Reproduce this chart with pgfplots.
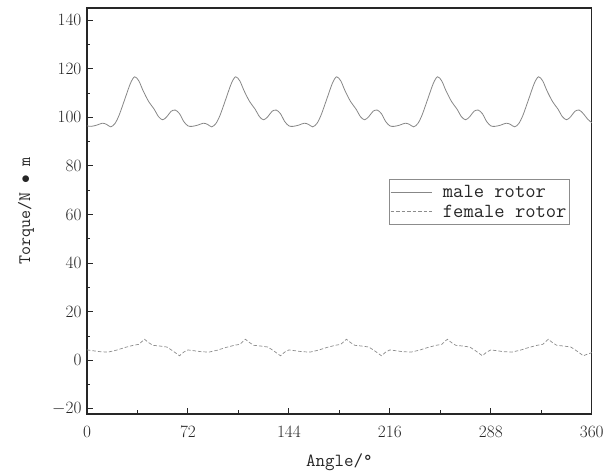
\documentclass[border=0pt]{standalone}
\usepackage{fontspec}
\usepackage{pgfplots}
\pgfplotsset{compat=1.18}
\definecolor{maleC}{RGB}{135,135,135}
\definecolor{femC}{RGB}{140,140,140}
\begin{document}
\begin{tikzpicture}
\begin{axis}[
  scale only axis,
  width=505pt, height=406pt,
  xmin=0, xmax=360, ymin=-22, ymax=145,
  xtick={0,72,144,216,288,360},
  minor xtick={36,108,180,252,324},
  ytick={-20,0,20,40,60,80,100,120,140},
  minor ytick={-10,10,30,50,70,90,110,130},
  tick align=inside,
  xtick pos=bottom, ytick pos=left,
  major tick length=6pt, minor tick length=3.5pt,
  every tick/.style={black!85, line width=1pt},
  axis line style={line width=1.3pt, black!85},
  tick label style={font=\fontsize{16.5}{18}\selectfont, black!85},
  xticklabel style={yshift=-9pt},
  yticklabel style={xshift=-2pt},
  xlabel={Angle/°},
  ylabel={Torque/N $\bullet$ m},
  every axis x label/.style={at={(axis description cs:0.5,-0.118)}, anchor=center,
    font=\ttfamily\fontsize{18.5}{20}\selectfont, text=black!85},
  every axis y label/.style={at={(axis description cs:-0.121,0.5)}, rotate=90, anchor=center,
    font=\ttfamily\fontsize{17.5}{20}\selectfont, text=black!85},
  legend style={at={(0.598,0.578)}, anchor=north west,
    draw=black!45, line width=0.6pt, font=\ttfamily\fontsize{20}{20}\selectfont,
    inner xsep=1pt, inner ysep=4pt, row sep=1.5pt, text=black!85,
    /tikz/every odd column/.append style={column sep=9pt}},
  legend cell align=left,
  legend image code/.code={\draw[#1] (0pt,0pt) -- (41pt,0pt);},
]
\addplot[smooth, color=maleC, line width=0.8pt] coordinates {
(0,96.5)(3,96.3)(7,96.8)(11,97.6)(14,97.1)(17,96.1)(20,97.5)(23,101)(27,107.5)(31,114)(34,116.7)(37,115)(40,111)(44,106.5)(48,103.3)(51,100.3)(54,99.0)(57,100.3)(60,102.5)(63,103)(66,101.5)(69,98.3)
(72,96.5)(75,96.3)(79,96.8)(83,97.6)(86,97.1)(89,96.1)(92,97.5)(95,101)(99,107.5)(103,114)(106,116.7)(109,115)(112,111)(116,106.5)(120,103.3)(123,100.3)(126,99.0)(129,100.3)(132,102.5)(135,103)(138,101.5)(141,98.3)
(144,96.5)(147,96.3)(151,96.8)(155,97.6)(158,97.1)(161,96.1)(164,97.5)(167,101)(171,107.5)(175,114)(178,116.7)(181,115)(184,111)(188,106.5)(192,103.3)(195,100.3)(198,99.0)(201,100.3)(204,102.5)(207,103)(210,101.5)(213,98.3)
(216,96.5)(219,96.3)(223,96.8)(227,97.6)(230,97.1)(233,96.1)(236,97.5)(239,101)(243,107.5)(247,114)(250,116.7)(253,115)(256,111)(260,106.5)(264,103.3)(267,100.3)(270,99.0)(273,100.3)(276,102.5)(279,103)(282,101.5)(285,98.3)
(288,96.5)(291,96.3)(295,96.8)(299,97.6)(302,97.1)(305,96.1)(308,97.5)(311,101)(315,107.5)(319,114)(322,116.7)(325,115)(328,111)(332,106.5)(336,103.3)(339,100.3)(342,99.0)(345,100.3)(348,102.5)(351,103)(354,101.5)(357,99.3)(360,97.8)
};
\addlegendentry{male rotor}
\addplot[color=femC, line width=0.7pt, dash pattern=on 3.5pt off 2pt] coordinates {
(0,4.3)(4,4.0)(9,3.6)(15,3.4)(21,4.2)(27,5.3)(33,6.2)(37,6.6)(41,8.7)(44,7.3)(47,6.2)(52,5.9)(57,5.5)(61,4.0)(66,1.9)(69,3.4)
(72,4.3)(76,4.0)(81,3.6)(87,3.4)(93,4.2)(99,5.3)(105,6.2)(109,6.6)(113,8.7)(116,7.3)(119,6.2)(124,5.9)(129,5.5)(133,4.0)(138,1.9)(141,3.4)
(144,4.3)(148,4.0)(153,3.6)(159,3.4)(165,4.2)(171,5.3)(177,6.2)(181,6.6)(185,8.7)(188,7.3)(191,6.2)(196,5.9)(201,5.5)(205,4.0)(210,1.9)(213,3.4)
(216,4.3)(220,4.0)(225,3.6)(231,3.4)(237,4.2)(243,5.3)(249,6.2)(253,6.6)(257,8.7)(260,7.3)(263,6.2)(268,5.9)(273,5.5)(277,4.0)(282,1.9)(285,3.4)
(288,4.3)(292,4.0)(297,3.6)(303,3.4)(309,4.2)(315,5.3)(321,6.2)(325,6.6)(329,8.7)(332,7.3)(335,6.2)(340,5.9)(345,5.5)(349,4.0)(354,1.9)(357,2.6)(360,3.2)
};
\addlegendentry{female rotor}
\end{axis}
\path (current axis.south west) ++(-87pt,-60pt);
\path (current axis.north east) ++(15pt,8pt);
\end{tikzpicture}
\end{document}
